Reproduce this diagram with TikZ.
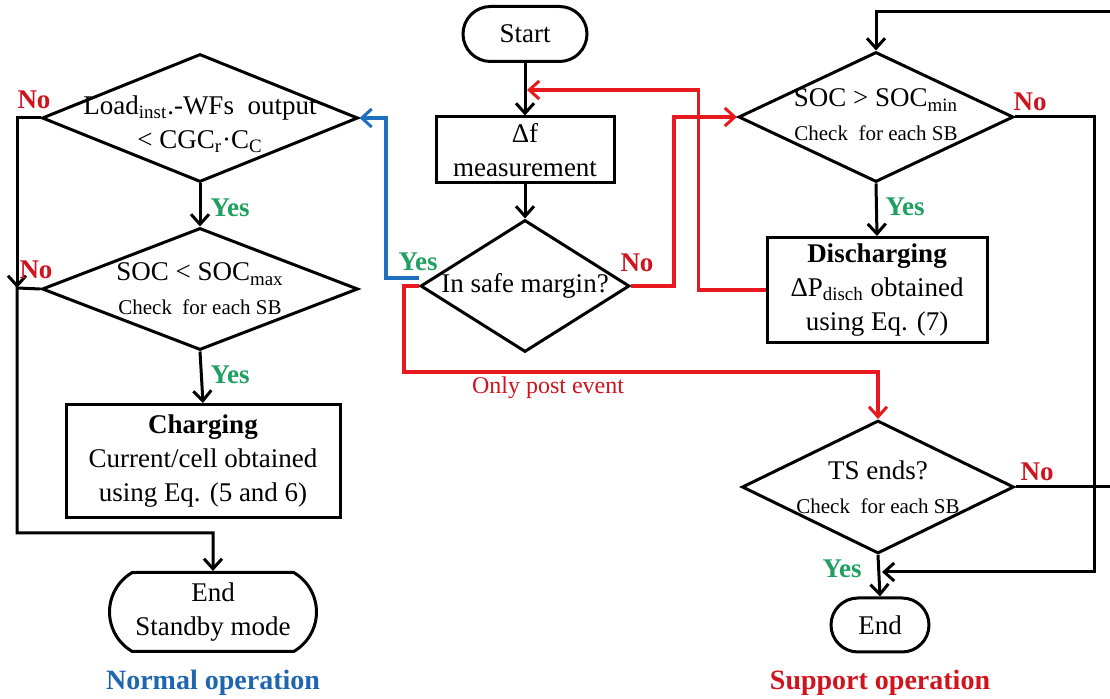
\documentclass[tikz,border=0pt]{standalone}
\usepackage{fontspec}
\setmainfont{Liberation Serif}
\usetikzlibrary{shapes.geometric,shapes.misc,arrows.meta}
\definecolor{lred}{HTML}{E8191E}
\definecolor{tred}{HTML}{D0141E}
\definecolor{lblue}{HTML}{1F6FBF}
\definecolor{tblue}{HTML}{1F66B0}
\definecolor{tgreen}{HTML}{1FA060}
\begin{document}
\begin{tikzpicture}[x=0.5pt,y=-0.5pt,
  font=\fontsize{13.5}{17}\selectfont,
  >={Straight Barb[length=5pt,width=9pt,line width=1.5pt]},
  box/.style={draw,line width=1.5pt,rectangle,inner sep=0pt,align=center},
  dia/.style={draw,line width=1.5pt,diamond,inner sep=0pt},
  term/.style={draw,line width=1.5pt,rounded rectangle,inner sep=0pt,align=center},
  conn/.style={line width=1.5pt,->},
  rconn/.style={line width=1.9pt,lred,->},
  bconn/.style={line width=1.9pt,lblue,->},
  yes/.style={font=\fontsize{13.5}{16}\selectfont\bfseries,text=tgreen},
  no/.style={font=\fontsize{13.5}{16}\selectfont\bfseries,text=tred},
  dtext/.style={align=center}
]
\useasboundingbox (0,0) rectangle (1110,699);
\newcommand{\chk}{{\fontsize{10.5}{13}\selectfont Check~ for each SB}}
% left column
\node[dia,minimum width=158pt,minimum height=64pt,
  label={[dtext,yshift=-3pt]center:Load\textsubscript{inst}.-WFs~ output\\< CGC\textsubscript{r}·C\textsubscript{C}}] (load) at (200,118) {};
\node[dia,minimum width=158pt,minimum height=61pt,
  label={[dtext]center:SOC < SOC\textsubscript{max}\\\chk}] (socmax) at (200,289) {};
\node[box,minimum width=137pt,minimum height=56.5pt] (charge) at (203,461)
  {\textbf{Charging}\\Current/cell obtained\\using Eq. (5 and 6)};
\node[term,minimum width=103.5pt,minimum height=39.5pt,rounded rectangle arc length=120] (endn) at (213,612)
  {End\\Standby mode};
% middle column
\node[term,minimum width=62pt,minimum height=27.5pt] (start) at (525,34) {Start};
\node[box,minimum width=89pt,minimum height=33pt] (df) at (525,150) {Δf\\measurement};
\node[dia,minimum width=104.5pt,minimum height=66pt,
  label={[dtext]center:In safe margin?}] (safe) at (525,286) {};
% right column
\node[dia,minimum width=137.5pt,minimum height=65pt,
  label={[dtext,yshift=1pt]center:SOC > SOC\textsubscript{min}\\\chk}] (socmin) at (876,117) {};
\node[box,minimum width=110pt,minimum height=52.5pt] (dis) at (877,290)
  {\textbf{Discharging}\\ΔP\textsubscript{disch} obtained\\using Eq. (7)};
\node[dia,minimum width=136pt,minimum height=66.5pt,
  label={[dtext]center:TS ends?\\\chk}] (ts) at (878,487) {};
\node[term,minimum width=49pt,minimum height=27pt] (ende) at (880,625) {End};
% coordinates
\coordinate (jl) at (17,288);
\coordinate (jb) at (17,533);
\coordinate (pe) at (878,372);
\coordinate (mj) at (527,90);
\coordinate (tj) at (882,572);
\coordinate (tr) at (1110,12);
\coordinate (ter) at (1110,487);
% connectors
\draw[conn] (load.south) -- (socmax.north);
\draw[conn] (socmax.south) -- (charge.north);
\draw[conn] (load.west) -| (jl);
\draw[conn] (socmax.west) -- (jl) -- (jb) -| (endn.north);
\draw[conn] (start.south) -- (df.north);
\draw[conn] (df.south) -- (safe.north);
\draw[bconn] ([yshift=4pt]safe.west) -- ++(-33,0) |- (load.east);
\draw[rconn] (safe.west) -- ++(-15,0) |- (pe) -- (ts.north);
\draw[rconn] (safe.east) -- ++(43,0) |- (socmin.west);
\draw[rconn] (dis.west) -- ++(-67,0) |- (mj);
\draw[conn] (socmin.south) -- (dis.north);
\draw[conn] (socmin.east) -- ++(79,0) |- (tj);
\draw[conn] (tr) -| (socmin.north);
\draw[line width=1.5pt] (ts.east) -- (ter);
\draw[conn] (ts.south) -- (ende.north);
% labels
\node[no] (no1) at (34,100) {No};
\node[yes] (yes1) at (230,208) {Yes};
\node[no] (no2) at (36,270) {No};
\node[yes] (yes2) at (230,375) {Yes};
\node[yes] (yes3) at (418,262) {Yes};
\node[no] (no3) at (637,263) {No};
\node[font=\fontsize{12}{14}\selectfont,text=tred] (ope) at (548,388) {Only post event};
\node[no] (no4) at (1030,102) {No};
\node[yes] (yes4) at (905,207) {Yes};
\node[no] (no5) at (1037,472) {No};
\node[yes] (yes5) at (842,569) {Yes};
\node[font=\fontsize{14}{16}\selectfont\bfseries,text=tblue] (nop) at (213,683) {Normal operation};
\node[font=\fontsize{14}{16}\selectfont\bfseries,text=tred] (sop) at (880,683) {Support operation};
\end{tikzpicture}
\end{document}
